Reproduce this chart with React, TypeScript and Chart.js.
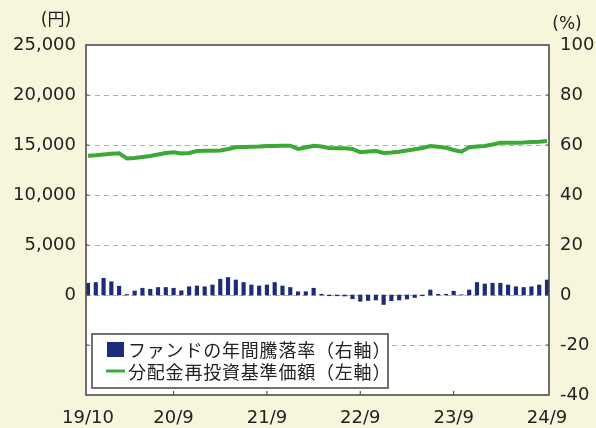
import React, { useEffect, useRef } from 'react';
import { Chart, registerables } from 'chart.js';

Chart.register(...registerables);

const months = [
  '19/10', '19/11', '19/12',
  '20/1', '20/2', '20/3', '20/4', '20/5', '20/6', '20/7', '20/8', '20/9', '20/10', '20/11', '20/12',
  '21/1', '21/2', '21/3', '21/4', '21/5', '21/6', '21/7', '21/8', '21/9', '21/10', '21/11', '21/12',
  '22/1', '22/2', '22/3', '22/4', '22/5', '22/6', '22/7', '22/8', '22/9', '22/10', '22/11', '22/12',
  '23/1', '23/2', '23/3', '23/4', '23/5', '23/6', '23/7', '23/8', '23/9', '23/10', '23/11', '23/12',
  '24/1', '24/2', '24/3', '24/4', '24/5', '24/6', '24/7', '24/8', '24/9',
];

const shownTicks = ['19/10', '20/9', '21/9', '22/9', '23/9', '24/9'];

// ファンドの年間騰落率 (%), right axis
const annualReturn = [
  4.7, 5.0, 6.7,
  5.3, 3.5, 0.2, 1.6, 2.7, 2.3, 3.0, 3.0, 2.7, 1.7, 3.3, 3.6,
  3.3, 4.0, 6.3, 7.0, 6.0, 5.0, 4.0, 3.6, 4.0, 5.0, 3.6, 3.0,
  1.3, 1.3, 2.7, 0.3, -0.3, -0.3, -0.4, -1.5, -2.5, -2.2, -2.0, -3.8,
  -2.3, -2.0, -1.6, -1.0, -0.3, 2.0, 0.3, 0.3, 1.5, 0.1, 2.0, 5.0,
  4.4, 4.7, 4.7, 4.0, 3.3, 3.0, 3.3, 4.0, 6.0,
];

// 分配金再投資基準価額 (円), left axis
const reinvestedNav = [
  13930, 13980, 14050,
  14120, 14170, 13650, 13700, 13800, 13900, 14050, 14200, 14270, 14150, 14200, 14400,
  14420, 14430, 14450, 14600, 14770, 14800, 14830, 14850, 14900, 14900, 14930, 14930,
  14600, 14750, 14930, 14850, 14700, 14670, 14670, 14600, 14270, 14350, 14400, 14200,
  14250, 14330, 14450, 14570, 14700, 14900, 14820, 14730, 14500, 14330, 14770, 14850,
  14900, 15050, 15230, 15230, 15230, 15250, 15300, 15330, 15400,
];

const leftTicks = [0, 5000, 10000, 15000, 20000, 25000];
const rightGridValues = [80, 60, 40, 20, 0, -20];

const CREAM = '#f7f6dc';
const NAVY = '#1d2b7b';
const GREEN = '#3aa935';
const TEXT = '#222222';
const TICK_FONT = { family: '"DejaVu Sans", sans-serif', size: 18 };

const decorPlugin = {
  id: 'decor',
  beforeDraw(chart: any) {
    const { ctx, chartArea: a, width, height } = chart;
    ctx.save();
    ctx.fillStyle = CREAM;
    ctx.fillRect(0, 0, width, height);
    ctx.fillStyle = '#ffffff';
    ctx.fillRect(a.left - 2, a.top, a.right - a.left + 4, a.bottom - a.top);
    ctx.restore();
  },
  beforeDatasetsDraw(chart: any) {
    const { ctx, chartArea: a } = chart;
    const ys = chart.scales.y1;
    ctx.save();
    ctx.strokeStyle = '#b0b0b0';
    ctx.lineWidth = 1;
    ctx.setLineDash([5, 4]);
    rightGridValues.forEach((v) => {
      const py = Math.round(ys.getPixelForValue(v)) + 0.5;
      ctx.beginPath();
      ctx.moveTo(a.left - 2, py);
      ctx.lineTo(a.right + 2, py);
      ctx.stroke();
    });
    ctx.restore();
  },
  afterDraw(chart: any) {
    const { ctx, chartArea: a } = chart;
    ctx.save();
    // plot border
    ctx.strokeStyle = '#4d4d4d';
    ctx.lineWidth = 1.6;
    ctx.strokeRect(a.left - 2, a.top, a.right - a.left + 4, a.bottom - a.top);

    // small tick marks on the axes
    const xs = chart.scales.x;
    const ys = chart.scales.y1;
    ctx.strokeStyle = '#555';
    ctx.lineWidth = 1.2;
    shownTicks.slice(1, -1).forEach((lab) => {
      const px = xs.getPixelForValue(months.indexOf(lab));
      ctx.beginPath();
      ctx.moveTo(px, a.bottom - 4);
      ctx.lineTo(px, a.bottom);
      ctx.stroke();
    });
    rightGridValues.forEach((v) => {
      const py = ys.getPixelForValue(v);
      ctx.beginPath();
      ctx.moveTo(a.left - 2, py);
      ctx.lineTo(a.left + 1, py);
      ctx.moveTo(a.right - 1, py);
      ctx.lineTo(a.right + 2, py);
      ctx.stroke();
    });

    // unit labels
    ctx.fillStyle = TEXT;
    ctx.font = '17px "DejaVu Sans", "Noto Sans CJK JP", sans-serif';
    ctx.textAlign = 'center';
    ctx.textBaseline = 'middle';
    ctx.fillText('(円)', 56, 21);
    ctx.fillText('(%)', 567, 25);

    // legend box
    const bx = 92, by = 334, bw = 296, bh = 54;
    ctx.fillStyle = '#ffffff';
    ctx.fillRect(bx, by, bw, bh);
    ctx.strokeStyle = '#505050';
    ctx.lineWidth = 1.6;
    ctx.strokeRect(bx, by, bw, bh);

    ctx.fillStyle = NAVY;
    ctx.fillRect(107, 342, 17, 15);
    ctx.strokeStyle = GREEN;
    ctx.lineWidth = 3;
    ctx.beginPath();
    ctx.moveTo(106, 371);
    ctx.lineTo(125, 371);
    ctx.stroke();

    ctx.fillStyle = TEXT;
    ctx.font = '18px "Noto Sans CJK JP", sans-serif';
    ctx.textAlign = 'left';
    ctx.textBaseline = 'middle';
    try { (ctx as any).letterSpacing = '0.8px'; } catch (e) { /* ignore */ }
    ctx.fillText('ファンドの年間騰落率（右軸）', 128, 350);
    ctx.fillText('分配金再投資基準価額（左軸）', 128, 372);
    try { (ctx as any).letterSpacing = '0px'; } catch (e) { /* ignore */ }
    ctx.restore();
  },
};

export default function App() {
  const ref = useRef<HTMLCanvasElement | null>(null);

  useEffect(() => {
    document.body.style.margin = '0';
    document.body.style.background = CREAM;
    if (!ref.current) return;
    const chart = new Chart(ref.current, {
      type: 'bar',
      data: {
        labels: months,
        datasets: [
          {
            type: 'line',
            label: '分配金再投資基準価額（左軸）',
            data: reinvestedNav,
            yAxisID: 'y',
            borderColor: GREEN,
            borderWidth: 4,
            pointRadius: 0,
            tension: 0,
            fill: false,
          } as any,
          {
            type: 'bar',
            label: 'ファンドの年間騰落率（右軸）',
            data: annualReturn,
            yAxisID: 'y1',
            backgroundColor: NAVY,
            barThickness: 3.5,
            clip: 4,
          } as any,
        ],
      },
      options: {
        animation: false,
        responsive: true,
        maintainAspectRatio: false,
        layout: { padding: { top: 45, left: 0, right: 0, bottom: 0 } },
        plugins: {
          legend: { display: false },
          tooltip: { enabled: false },
        },
        scales: {
          x: {
            type: 'category',
            offset: false,
            grid: { display: false, drawTicks: false },
            border: { display: false },
            ticks: {
              autoSkip: false,
              maxRotation: 0,
              minRotation: 0,
              padding: 13,
              color: TEXT,
              font: TICK_FONT,
              callback: (_v: any, i: number) => (shownTicks.includes(months[i]) ? months[i] : ''),
            },
            afterFit: (s: any) => { s.height = 33; },
          },
          y: {
            type: 'linear',
            position: 'left',
            min: -10000,
            max: 25000,
            grid: { display: false, drawTicks: false },
            border: { display: false },
            ticks: {
              stepSize: 5000,
              padding: 12,
              color: TEXT,
              font: TICK_FONT,
              callback: (v: any) => (leftTicks.includes(v) ? Number(v).toLocaleString('en-US') : ''),
            },
            afterFit: (s: any) => { s.width = 88; },
          },
          y1: {
            type: 'linear',
            position: 'right',
            min: -40,
            max: 100,
            grid: { display: false, drawTicks: false },
            border: { display: false },
            ticks: {
              stepSize: 20,
              padding: 13,
              color: TEXT,
              font: TICK_FONT,
            },
            afterFit: (s: any) => { s.width = 49; },
          },
        },
      },
      plugins: [decorPlugin],
    });
    return () => chart.destroy();
  }, []);

  return (
    <div style={{ position: 'relative', width: 596, height: 428, background: CREAM }}>
      <canvas ref={ref} />
    </div>
  );
}
